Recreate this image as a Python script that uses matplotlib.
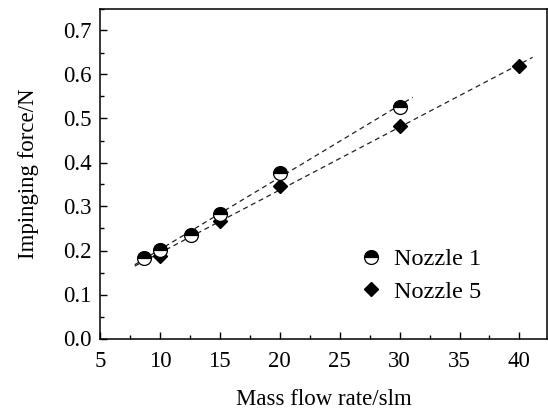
import numpy as np
import matplotlib
matplotlib.use("Agg")
import matplotlib.pyplot as plt
from matplotlib.ticker import MultipleLocator

plt.rcParams['font.family'] = ['Liberation Serif', 'DejaVu Serif']

n1_x = [8.7, 10.0, 12.6, 15.0, 20.0, 30.0]
n1_y = [0.183, 0.202, 0.236, 0.284, 0.377, 0.526]
n5_x = [10.0, 15.0, 20.0, 30.0, 40.0]
n5_y = [0.187, 0.267, 0.347, 0.482, 0.619]
fit1_range = [7.9, 31.1]
fit5_range = [7.9, 41.1]

fig = plt.figure(figsize=(5.48, 4.12), dpi=100)
ax = fig.add_axes([100/548, 1-338.5/412, 447/548, 330/412])

for xs, ys, rng in [(n1_x, n1_y, fit1_range), (n5_x, n5_y, fit5_range)]:
    p = np.polyfit(xs, ys, 1)
    xx = np.array(rng)
    ax.plot(xx, np.polyval(p, xx), ls=(0, (4, 3)), color='#222222', lw=0.9, zorder=1)

ax.plot(n1_x, n1_y, ls='none', marker='o', ms=10, fillstyle='top',
        markerfacecolor='black', markerfacecoloralt='white', markeredgecolor='black',
        markeredgewidth=0.9, label='Nozzle 1', zorder=3)
ax.plot(n5_x, n5_y, ls='none', marker='D', ms=7, color='black', label='Nozzle 5', zorder=2)

ax.set_xlim(5, 42.3)
ax.set_ylim(0, 0.75)
ax.xaxis.set_major_locator(MultipleLocator(5))
ax.xaxis.set_minor_locator(MultipleLocator(2.5))
ax.yaxis.set_major_locator(MultipleLocator(0.1))
ax.yaxis.set_minor_locator(MultipleLocator(0.05))
ax.yaxis.set_major_formatter(matplotlib.ticker.FormatStrFormatter('%.1f'))
ax.tick_params(which='both', direction='in', top=False, right=False, labelsize=16.5, width=1)
ax.tick_params(which='major', length=5)
ax.tick_params(axis='x', which='major', pad=9)
ax.tick_params(axis='y', which='major', pad=6)
ax.tick_params(which='minor', length=3)
for s in ax.spines.values():
    s.set_linewidth(1.1)

ax.set_xlabel('Mass flow rate/slm', fontsize=16.5, labelpad=12)
ax.set_ylabel('Impinging force/N', fontsize=16.5, labelpad=17)

ax.legend(loc='center left', bbox_to_anchor=((356 - 100) / 447, (338.5 - 275.5) / 330),
          frameon=False, fontsize=17.5, borderpad=0, borderaxespad=0,
          handlelength=1.2, handletextpad=0.35, labelspacing=0.45)

fig.savefig('out.png', dpi=100)
